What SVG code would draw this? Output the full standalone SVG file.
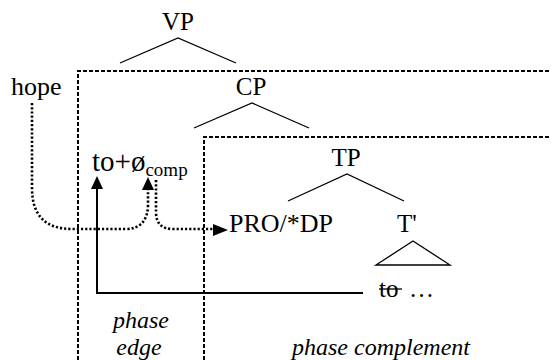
<svg xmlns="http://www.w3.org/2000/svg" width="551" height="360" viewBox="0 0 551 360">
<style>
text{font-family:"Liberation Serif","Times New Roman",serif;font-size:25px;fill:#000}
.it{font-style:italic;font-size:24px}
.big{font-size:29px}
.sub{font-size:19px}
.m{text-anchor:middle}
.tree{stroke:#000;stroke-width:1.3;fill:none}
.box{stroke:#000;stroke-width:2;fill:none;stroke-dasharray:4 2}
.dot{stroke:#000;stroke-width:2.6;fill:none;stroke-dasharray:2.2 2}
.solid{stroke:#000;stroke-width:2;fill:none}
.head{fill:#000}
</style>
<rect width="551" height="360" fill="#fff"/>
<g id="boxes">
<path class="box" d="M78,360 V71 H551"/>
<path class="box" d="M204,360 V137 H551"/>
</g>
<g id="VP"><text class="m" x="178" y="30">VP</text><path class="tree" d="M120,63 L178,38 L236,63"/></g>
<g id="hope"><text x="11" y="95" style="font-size:26px">hope</text></g>
<g id="CP"><text class="m" x="251" y="95">CP</text><path class="tree" d="M194,128 L252,103 L309,128"/></g>
<g id="C"><text class="big" x="92" y="171">to+ø<tspan class="sub" dy="5">comp</tspan></text></g>
<g id="TP"><text class="m" x="346" y="166">TP</text><path class="tree" d="M288,201 L347,174 L404,201"/></g>
<g id="PRO"><text x="229" y="232" style="font-size:26px">PRO/*DP</text></g>
<g id="Tbar"><text x="397" y="232">T'</text><path class="tree" d="M376,265 L413,241 L450,265 Z"/></g>
<g id="to"><text x="379" y="297">to</text><path stroke="#000" stroke-width="1.3" d="M379,289 H402"/><text x="409" y="297">…</text></g>
<g id="phaseEdge"><text class="it m" x="141" y="328">phase</text><text class="it m" x="139" y="355">edge</text></g>
<g id="phaseComplement"><text class="it m" x="381" y="355">phase complement</text></g>
<g id="connectors">
<path class="solid" d="M363,293 H97 V188"/>
<polygon class="head" points="97,176 91,189 103,189"/>
<path class="dot" d="M32,103 V188 Q32,229 72,229 H125 Q148,229 148,204 V190"/>
<polygon class="head" points="148,177 142,190 154,190"/>
<path class="dot" d="M156,180 V212 Q156,229 173,229 H213"/>
<polygon class="head" points="228,230 213,224 213,236"/>
</g>
</svg>
